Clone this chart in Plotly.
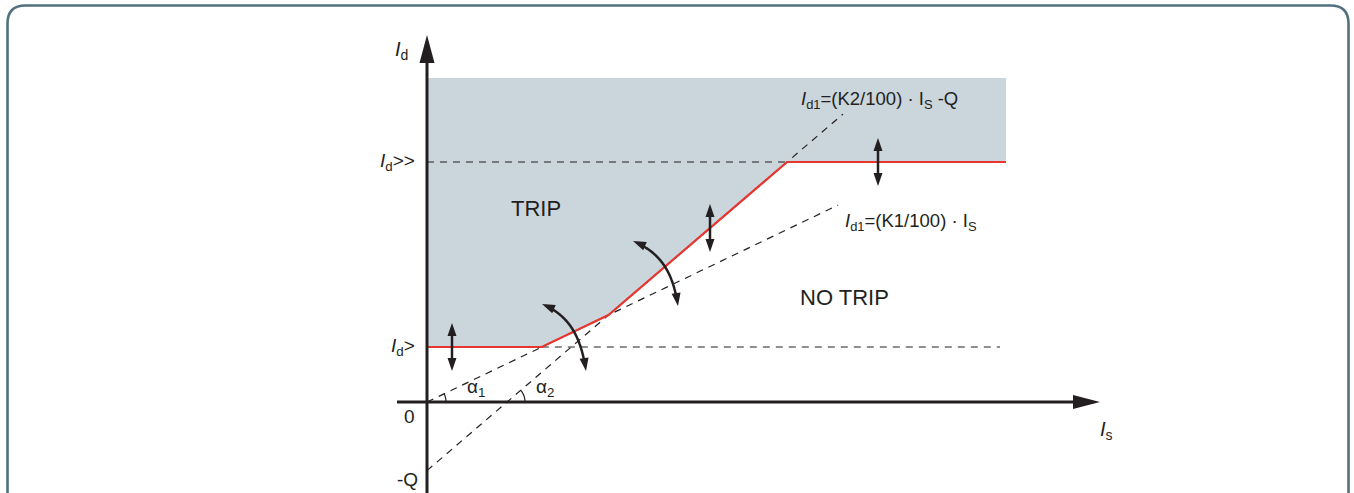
import numpy as np
import plotly.graph_objects as go

# Differential protection characteristic (diagram units, origin at axis crossing)
K1 = 47.9          # slope of first section, %
K2 = 85.7          # slope of second section, %
Q = 68.6           # offset of second section
ID_LOW = 55.0      # Id>
ID_HIGH = 240.0    # Id>>
IS_END = 579.0     # right end of the characteristic
ID_TOP = 324.0     # upper edge of the trip area
IS_LOW_END = 573.0 # end of the Id> guide line
K1_END = 411.0     # end of the K1 guide line
K2_END = 416.0     # end of the K2 guide line

# setting adjusters: vertical ones sit on the curve at these Is values
ADJ_IS = [25.0, 283.0, 451.0]
# slope adjusters: (start tip, control 1, control 2, end tip)
ROT_ADJ = [
    ((115.0, 98.0), (144.4, 85.5), (154.2, 62.7), (159.0, 31.0)),
    ((206.0, 161.0), (235.4, 148.5), (246.2, 127.7), (251.0, 96.0)),
]

INK = "#231f20"
RED = "#e8352e"
TRIP_FILL = "#cad5dc"
FRAME = "#51717f"
FONT = "Liberation Sans, Arial, Helvetica, sans-serif"

s1, s2 = K1 / 100.0, K2 / 100.0
x_a = ID_LOW / s1
x_b = Q / (s2 - s1)
x_c = (ID_HIGH + Q) / s2
curve_x = [0.0, x_a, x_b, x_c, IS_END]
curve_y = [ID_LOW, ID_LOW, s1 * x_b, ID_HIGH, ID_HIGH]

fig = go.Figure()

# trip area
fig.add_trace(go.Scatter(
    x=[0, IS_END] + curve_x[::-1],
    y=[ID_TOP, ID_TOP] + curve_y[::-1],
    fill="toself", fillcolor=TRIP_FILL, line=dict(width=0),
    mode="lines", hoverinfo="skip"))

dash = dict(color=INK, width=1.2, dash="7px,6px")
guides = [
    ([0, x_c], [ID_HIGH, ID_HIGH]),
    ([x_a, IS_LOW_END], [ID_LOW, ID_LOW]),
    ([0, K1_END], [0, s1 * K1_END]),
    ([0, K2_END], [-Q, s2 * K2_END - Q]),
]
for gx, gy in guides:
    fig.add_trace(go.Scatter(x=gx, y=gy, mode="lines", line=dash, hoverinfo="skip"))

# tripping characteristic
fig.add_trace(go.Scatter(x=curve_x, y=curve_y, mode="lines",
                         line=dict(color=RED, width=2.2), hoverinfo="skip"))

shapes = []


def head(tip, d, length, half):
    tip = np.asarray(tip, float)
    d = np.asarray(d, float)
    d = d / np.linalg.norm(d)
    n = np.array([-d[1], d[0]])
    b = tip - length * d
    p1, p2 = b + half * n, b - half * n
    return dict(type="path", layer="above",
                path=f"M{tip[0]:.2f},{tip[1]:.2f} L{p1[0]:.2f},{p1[1]:.2f} "
                     f"L{p2[0]:.2f},{p2[1]:.2f} Z",
                fillcolor=INK, line=dict(width=0))


def polyline(pts, width, color=INK):
    p = "M" + " L".join(f"{x:.2f},{y:.2f}" for x, y in pts)
    return dict(type="path", layer="above", path=p,
                line=dict(color=color, width=width))


# axes
shapes.append(polyline([(0, -120), (0, 345)], 3))
shapes.append(head((0, 367), (0, 1), 28, 7.5))
shapes.append(polyline([(-30, 0), (650, 0)], 3))
shapes.append(head((673, 0), (1, 0), 27, 7))

# vertical adjusters
HL, AL, AW = 24.0, 13.0, 4.5
for xv in ADJ_IS:
    yc = float(np.interp(xv, curve_x, curve_y))
    shapes.append(polyline([(xv, yc - HL + AL - 1), (xv, yc + HL - AL + 1)], 2.5))
    shapes.append(head((xv, yc + HL), (0, 1), AL, AW))
    shapes.append(head((xv, yc - HL), (0, -1), AL, AW))

# slope adjusters
t = np.linspace(0, 1, 200)[:, None]
for p0, c1, c2, p3 in ROT_ADJ:
    p0, c1, c2, p3 = map(np.array, (p0, c1, c2, p3))
    pts = ((1 - t) ** 3) * p0 + 3 * ((1 - t) ** 2) * t * c1 + 3 * (1 - t) * t ** 2 * c2 + t ** 3 * p3
    seg = np.r_[0, np.cumsum(np.linalg.norm(np.diff(pts, axis=0), axis=1))]
    keep = (seg > AL - 1) & (seg < seg[-1] - AL + 1)
    shapes.append(polyline(pts[keep], 2.5))
    shapes.append(head(p0, p0 - c1, AL, AW))
    shapes.append(head(p3, p3 - c2, AL, AW))

# angle marks
for cx, ang, r in [(0.0, np.arctan(s1), 19.0), (Q / s2, np.arctan(s2), 18.0)]:
    a = np.linspace(0, ang, 20)
    shapes.append(polyline(np.c_[cx + r * np.cos(a), r * np.sin(a)], 1.2))

# outer frame
L_, R_, T_, B_, rad = -419.5, 921.5, 396.5, -130.0, 18.0
shapes.append(dict(type="path", layer="above",
                   path=f"M{L_},{B_} L{L_},{T_ - rad} Q{L_},{T_} {L_ + rad},{T_} "
                        f"L{R_ - rad},{T_} Q{R_},{T_} {R_},{T_ - rad} L{R_},{B_}",
                   line=dict(color=FRAME, width=2.6)))

ann = []


def label(x, y, text, size=19, xanchor="center"):
    ann.append(dict(x=x, y=y, text=text, showarrow=False, xanchor=xanchor,
                    yanchor="middle", font=dict(family=FONT, size=size, color=INK)))


label(-26, 352, "<i>I</i><sub>d</sub>", size=20)
label(-10, 240, "<i>I</i><sub>d</sub>>>", xanchor="right")
label(-10, 55, "<i>I</i><sub>d</sub>>", xanchor="right")
label(-18, -14, "0")
label(-7, -77, "-Q", xanchor="right")
label(671, -28, "<i>I</i><sub>s</sub>", size=20, xanchor="left")
label(109, 194, "TRIP", size=22)
label(417, 105, "NO TRIP", size=22)
label(49, 14, "α<sub>1</sub>")
label(118, 14, "α<sub>2</sub>")
label(372, 302, "<i>I</i><sub>d1</sub>=(K2/100) · I<sub>S</sub> -Q", size=18.5, xanchor="left")
label(416, 180, "<i>I</i><sub>d1</sub>=(K1/100) · I<sub>S</sub>", size=18.5, xanchor="left")

fig.update_layout(
    width=1354, height=493, margin=dict(l=0, r=0, t=0, b=0),
    paper_bgcolor="white", plot_bgcolor="white", showlegend=False,
    xaxis=dict(range=[-427, 927], visible=False, fixedrange=True),
    yaxis=dict(range=[-91, 402], visible=False, fixedrange=True),
    shapes=shapes, annotations=ann,
)

fig.write_html("out.html")
